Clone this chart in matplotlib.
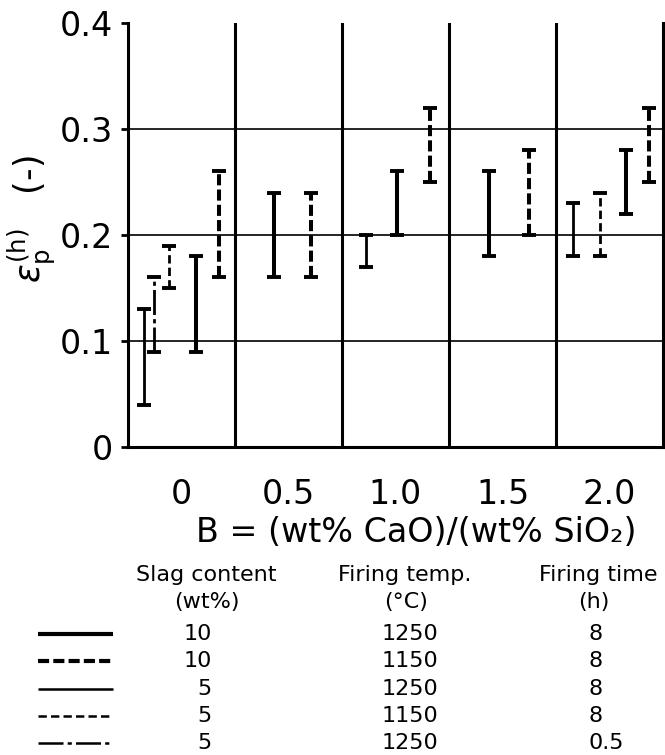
import numpy as np
import matplotlib
matplotlib.use("Agg")
import matplotlib.pyplot as plt
from matplotlib.lines import Line2D

plt.rcParams['font.family'] = ['DejaVu Sans']
plt.rcParams['lines.scale_dashes'] = False

nan = np.nan

# Basicity groups on the x axis
b_labels = ['0', '0.5', '1.0', '1.5', '2.0']

# Ranges of the porosity (low / high) for each condition
thick_solid_lo = [0.09, 0.16, 0.20, 0.18, 0.22]
thick_solid_hi = [0.18, 0.24, 0.26, 0.26, 0.28]
thick_dash_lo = [0.16, 0.16, 0.25, 0.20, 0.25]
thick_dash_hi = [0.26, 0.24, 0.32, 0.28, 0.32]
thin_solid_lo = [0.04, nan, 0.17, nan, 0.18]
thin_solid_hi = [0.13, nan, 0.20, nan, 0.23]
thin_dash_lo = [0.15, nan, nan, nan, 0.18]
thin_dash_hi = [0.19, nan, nan, nan, 0.24]
dashdot_lo = [0.09, nan, nan, nan, nan]
dashdot_hi = [0.16, nan, nan, nan, nan]

# Legend table
slag_content = ['10', '10', '5', '5', '5']
firing_temp = ['1250', '1150', '1250', '1150', '1250']
firing_time = ['8', '8', '8', '8', '0.5']

# Horizontal placement of each bar inside its group
thick_solid_dx = [0.14, -0.14, 0.01, -0.13, 0.15]
thick_dash_dx = [0.355, 0.21, 0.32, 0.25, 0.365]
thin_solid_dx = [-0.355, 0, -0.28, 0, -0.34]
thin_dash_dx = [-0.12, 0, 0, 0, -0.085]
dashdot_dx = [-0.26, 0, 0, 0, 0]

THICK, THIN = 2.9, 2.0
series = [
    (thick_solid_lo, thick_solid_hi, thick_solid_dx, THICK, '-'),
    (thick_dash_lo, thick_dash_hi, thick_dash_dx, THICK, (0, (8, 3))),
    (thin_solid_lo, thin_solid_hi, thin_solid_dx, THIN, '-'),
    (thin_dash_lo, thin_dash_hi, thin_dash_dx, THIN, (0, (6, 3))),
    (dashdot_lo, dashdot_hi, dashdot_dx, THIN, (0, (18, 3, 3, 3))),
]

W, H = 665, 755
fig = plt.figure(figsize=(W / 100, H / 100), dpi=100)
ax = fig.add_axes([128 / W, 1 - 447 / H, (663 - 128) / W, (447 - 23) / H])
ax.set_xlim(-0.5, 4.5)
ax.set_ylim(0, 0.4)

for lo, hi, dx, lw, ls in series:
    for i in range(len(b_labels)):
        if np.isnan(lo[i]):
            continue
        x = i + dx[i]
        ax.plot([x, x], [lo[i], hi[i]], color='black', lw=lw, ls=ls,
                solid_capstyle='butt', dash_capstyle='butt')
        ax.plot([x, x], [lo[i], hi[i]], ls='none', marker='_', ms=10,
                mew=2.8, color='black')

# grid: light horizontal lines, heavy group separators
for yv in [0.1, 0.2, 0.3]:
    ax.axhline(yv, color='black', lw=1.2, zorder=0)
for xv in [0.5, 1.5, 2.5, 3.5]:
    ax.axvline(xv, color='black', lw=2.2, zorder=0)

ax.spines['top'].set_visible(False)
for s in ['left', 'right', 'bottom']:
    ax.spines[s].set_linewidth(2.2)

ax.set_yticks([0, 0.1, 0.2, 0.3, 0.4])
ax.set_yticklabels(['0', '0.1', '0.2', '0.3', '0.4'])
ax.set_xticks(range(len(b_labels)))
ax.set_xticklabels(b_labels)
ax.tick_params(axis='y', length=5, width=2, pad=6, labelsize=24)
ax.tick_params(axis='x', length=0, pad=22, labelsize=24)

fig.text(32 / W, 1 - 219 / H,
         r'$\varepsilon_\mathrm{p}^{(\mathrm{h})}$   (-)', rotation=90,
         fontsize=25, ha='center', va='center')
fig.text(416 / W, 1 - 533 / H, 'B = (wt% CaO)/(wt% SiO₂)', fontsize=24,
         ha='center', va='center')

# legend table below the plot
def fy(y):
    return 1 - y / H

fs = 16
fig.text(206 / W, fy(575), 'Slag content', fontsize=fs, ha='center', va='center')
fig.text(405 / W, fy(575), 'Firing temp.', fontsize=fs, ha='center', va='center')
fig.text(598 / W, fy(575), 'Firing time', fontsize=fs, ha='center', va='center')
fig.text(207 / W, fy(602), '(wt%)', fontsize=fs, ha='center', va='center')
fig.text(406 / W, fy(602), '(°C)', fontsize=fs, ha='center', va='center')
fig.text(594 / W, fy(602), '(h)', fontsize=fs, ha='center', va='center')

row_y = [634, 661, 689, 716, 743]
key_lw = [3.0, 3.0, 1.8, 1.8, 1.8]
for k, (lo, hi, dx, lw, ls) in enumerate(series):
    y = fy(row_y[k])
    fig.add_artist(Line2D([38 / W, 113 / W], [y, y], color='black',
                          lw=key_lw[k], ls=ls, dash_capstyle='butt',
                          solid_capstyle='butt'))
    fig.text(212 / W, y, slag_content[k], fontsize=fs, ha='right', va='center')
    fig.text(382 / W, y, firing_temp[k], fontsize=fs, ha='left', va='center')
    fig.text(588 / W, y, firing_time[k], fontsize=fs, ha='left', va='center')

fig.savefig('out.png', dpi=100)
